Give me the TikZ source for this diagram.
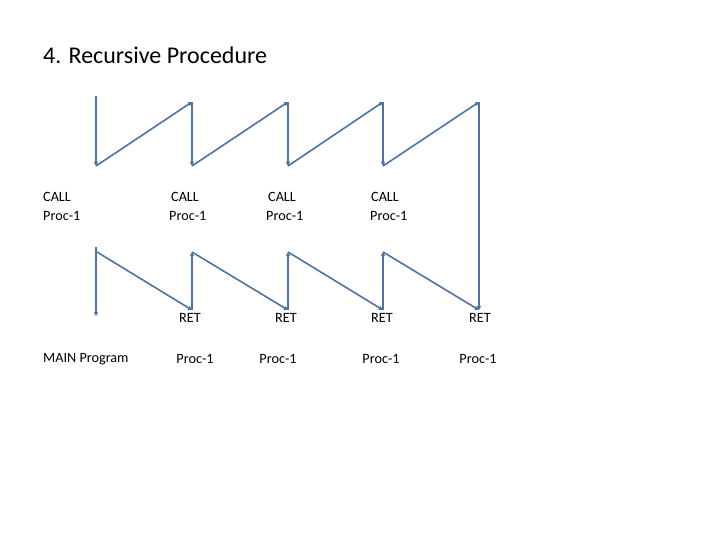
\documentclass[tikz,border=0pt]{standalone}
\usepackage{fontspec}
\setmainfont{Carlito}
\usetikzlibrary{arrows.meta}
\definecolor{flow}{RGB}{80,114,156}
\tikzset{
  flowline/.style={draw=flow, line width=1.6bp, -{Triangle[length=4bp,width=4bp]}},
  lbl/.style={inner sep=0pt, font=\fontsize{14.2bp}{17bp}\selectfont, text=black},
}
\begin{document}
\begin{tikzpicture}[x=1bp,y=-1bp]
\useasboundingbox (0,0) rectangle (720,540);
\node[anchor=west, inner sep=0pt, font=\fontsize{24bp}{28bp}\selectfont] (title) at (43,55) {4. Recursive Procedure};
% top coordinates
\coordinate (t1a) at (96,96);
\coordinate (t1b) at (96,166);
\coordinate (t2a) at (192,102);
\coordinate (t2b) at (192,166);
\coordinate (t3a) at (288,102);
\coordinate (t3b) at (288,166);
\coordinate (t4a) at (383,102);
\coordinate (t4b) at (383,166);
\coordinate (t5a) at (479,102);
% bottom coordinates
\coordinate (b1a) at (96,247);
\coordinate (b1b) at (96,316);
\coordinate (b1d) at (97,252);
\coordinate (r2) at (192,310);
\coordinate (u2) at (192,252);
\coordinate (r3) at (288,310);
\coordinate (u3) at (288,252);
\coordinate (r4) at (383,310);
\coordinate (u4) at (383,252);
\coordinate (r5) at (479,310);
% top zigzag
\draw[flowline] (t1a) -- (t1b);
\draw[flowline] (t1b) -- (t2a);
\draw[flowline] (t2a) -- (t2b);
\draw[flowline] (t2b) -- (t3a);
\draw[flowline] (t3a) -- (t3b);
\draw[flowline] (t3b) -- (t4a);
\draw[flowline] (t4a) -- (t4b);
\draw[flowline] (t4b) -- (t5a);
\draw[flowline] (t5a) -- (r5);
% bottom zigzag
\draw[flowline] (b1a) -- (b1b);
\draw[flowline] (b1d) -- (r2);
\draw[flowline] (r2) -- (u2);
\draw[flowline] (u2) -- (r3);
\draw[flowline] (r3) -- (u3);
\draw[flowline] (u3) -- (r4);
\draw[flowline] (r4) -- (u4);
\draw[flowline] (u4) -- (r5);
% CALL labels
\node[lbl, anchor=west] (c1) at (43,197) {CALL};
\node[lbl, anchor=west] (p1) at (43,216) {Proc-1};
\node[lbl, anchor=west] (c2) at (171,197) {CALL};
\node[lbl, anchor=west] (p2) at (169,216) {Proc-1};
\node[lbl, anchor=west] (c3) at (268,197) {CALL};
\node[lbl, anchor=west] (p3) at (266,216) {Proc-1};
\node[lbl, anchor=west] (c4) at (371,197) {CALL};
\node[lbl, anchor=west] (p4) at (370,216) {Proc-1};
% RET labels
\node[lbl] (ret2) at (190,318) {RET};
\node[lbl] (ret3) at (286,318) {RET};
\node[lbl] (ret4) at (382,318) {RET};
\node[lbl] (ret5) at (480,318) {RET};
% bottom labels
\node[lbl, anchor=west] (main) at (43,359) {MAIN Program};
\node[lbl] (q2) at (195,359) {Proc-1};
\node[lbl] (q3) at (278,359) {Proc-1};
\node[lbl] (q4) at (381,359) {Proc-1};
\node[lbl] (q5) at (478,359) {Proc-1};
\end{tikzpicture}
\end{document}
